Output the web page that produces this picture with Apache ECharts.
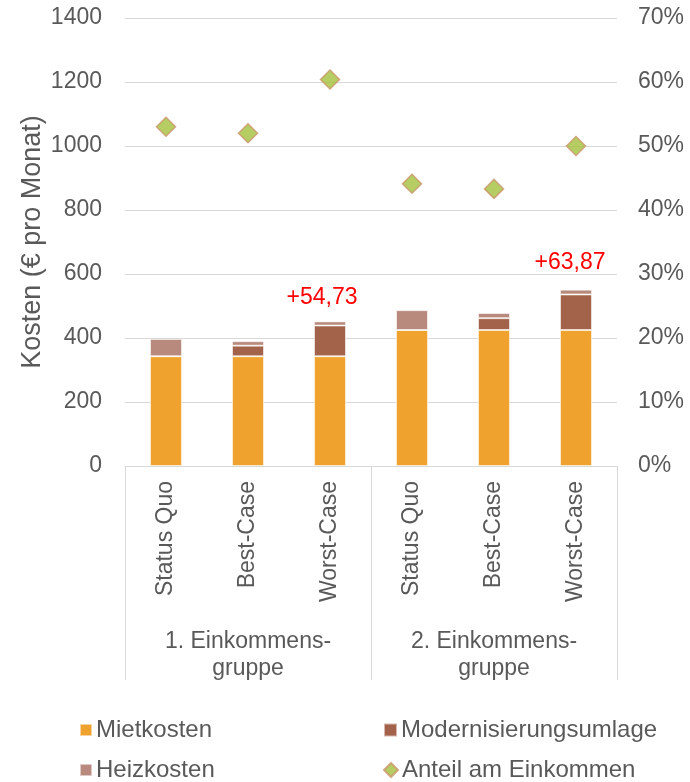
<!DOCTYPE html>
<html>
<head>
<meta charset="utf-8">
<script src="https://cdn.jsdelivr.net/npm/echarts@6/dist/echarts.min.js"></script>
<style>
html,body{margin:0;padding:0;background:#fff;}
#chart{width:690px;height:782px;}
</style>
</head>
<body>
<div id="chart"></div>
<script>
const categories = ['Status Quo','Best-Case','Worst-Case','Status Quo','Best-Case','Worst-Case'];
const groups = ['1. Einkommens-\ngruppe','2. Einkommens-\ngruppe'];
const mietkosten = [343,343,343,425,425,425];
const modernisierung = [0,33,96,0,37,111];
const heizkosten = [54,14,13,62,16,15];
const anteil = [0.53,0.52,0.604,0.441,0.433,0.50];
const annotations = ['','','+54,73','','','+63,87'];
const leftTicks = [0,1400,200];
const rightTicks = [0,0.7,0.1];

const FONT = 'Liberation Sans, Arial, sans-serif';
const GRAY = '#595959';
const LINE = '#d9d9d9';
const annOffsets = [[0,0],[0,0],[-8,0],[0,0],[0,0],[-6,-4]];

const chart = echarts.init(document.getElementById('chart'), null, {renderer:'canvas'});
const barBorder = {borderColor:'rgba(255,255,255,0.55)', borderWidth:1};
const legendText = {fontSize:24,color:GRAY,fontFamily:FONT,lineHeight:24,padding:[0,0,0,-1]};
function legendItem(name, left, top, icon, size){
  return {left:left, top:top, padding:0, itemWidth:size, itemHeight:size, textStyle:legendText,
          data:[icon ? {name:name, icon:icon} : {name:name}]};
}

const option = {
  animation:false,
  textStyle:{fontFamily:FONT},
  grid:{left:125,right:73,top:18,bottom:316},
  legend:[
    legendItem('Mietkosten', 79, 718, 'rect', 12),
    legendItem('Heizkosten', 79, 758, 'rect', 12),
    legendItem('Modernisierungsumlage', 383, 718, 'rect', 13),
    legendItem('Anteil am Einkommen', 383, 758, null, 14)
  ],
  xAxis:[
    {type:'category', data:categories, position:'bottom',
     axisLine:{lineStyle:{color:LINE,width:1}}, axisTick:{show:false},
     axisLabel:{rotate:90, margin:15, fontSize:23, color:GRAY, fontFamily:FONT, interval:0}},
    {type:'category', data:groups, position:'bottom',
     axisLine:{lineStyle:{color:LINE,width:1}},
     axisTick:{show:true, length:214, interval:0, lineStyle:{color:LINE,width:1}},
     axisLabel:{margin:162, fontSize:23, color:GRAY, fontFamily:FONT, lineHeight:27, interval:0}}
  ],
  yAxis:[
    {type:'value', min:leftTicks[0], max:leftTicks[1], interval:leftTicks[2],
     name:'Kosten (€ pro Monat)', nameLocation:'middle', nameGap:79, nameMoveOverlap:false,
     nameTextStyle:{fontSize:27,color:GRAY,fontFamily:FONT},
     axisLine:{show:false}, axisTick:{show:false},
     splitLine:{lineStyle:{color:LINE,width:1}},
     axisLabel:{margin:23,fontSize:23,color:GRAY,fontFamily:FONT, formatter:v=>String(v)}},
    {type:'value', min:rightTicks[0], max:rightTicks[1], interval:rightTicks[2], position:'right',
     axisLine:{show:false}, axisTick:{show:false}, splitLine:{show:false},
     axisLabel:{margin:21,fontSize:23,color:GRAY,fontFamily:FONT,
       formatter:v=>Math.round(v*100)+'%'}}
  ],
  series:[
    {name:'Mietkosten', type:'bar', stack:'k', barWidth:32, data:mietkosten,
     itemStyle:Object.assign({color:'#EFA32E'},barBorder)},
    {name:'Modernisierungsumlage', type:'bar', stack:'k', barWidth:32, data:modernisierung,
     itemStyle:Object.assign({color:'#A3634A'},barBorder)},
    {name:'Heizkosten', type:'bar', stack:'k', barWidth:32,
     data:heizkosten.map((v,i)=>({value:v,
        label:{show:annotations[i]!=='', formatter:annotations[i], position:'top', distance:12,
               offset:annOffsets[i], color:'#FF0000', fontSize:23, fontFamily:FONT}})),
     itemStyle:Object.assign({color:'#B88A7E'},barBorder)},
    {name:'Anteil am Einkommen', type:'scatter', yAxisIndex:1, symbol:'diamond', symbolSize:19,
     data:anteil, z:5,
     itemStyle:{color:'#A3C03C', borderColor:'#C9966A', borderWidth:1.5}}
  ]
};
chart.setOption(option);
</script>
</body>
</html>
